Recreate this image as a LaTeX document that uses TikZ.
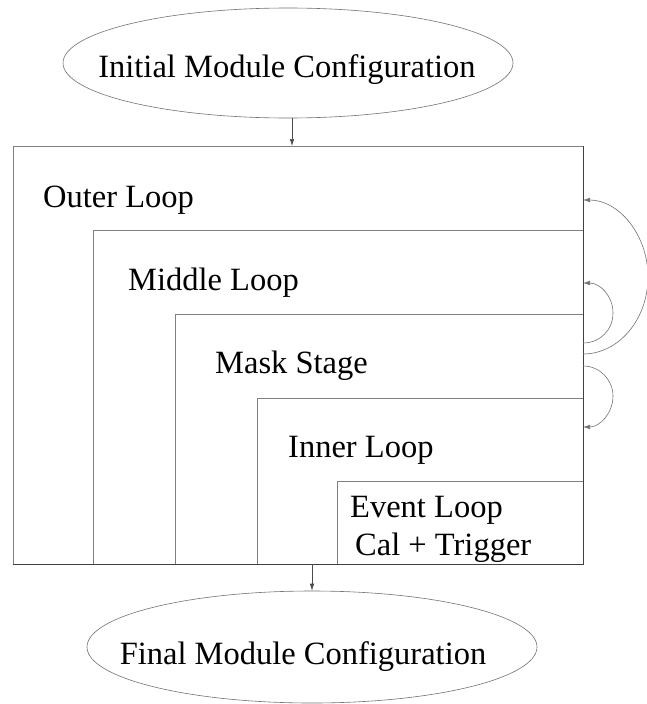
\documentclass[tikz,border=0pt]{standalone}
\usepackage{fontspec}
\setmainfont{Liberation Serif}
\usetikzlibrary{shapes.geometric,arrows.meta}
\begin{document}
\begin{tikzpicture}[x=1pt,y=-1pt,
  frame/.style={draw=black!50,line width=0.7pt},
  edge/.style={draw=black!75,line width=0.9pt},
  term/.style={ellipse,draw=black!55,line width=0.6pt,minimum width=450pt,inner sep=0pt},
  lbl/.style={anchor=base west,inner sep=0pt,font=\fontsize{32.5}{38}\selectfont},
  ttl/.style={anchor=base,inner sep=0pt,font=\fontsize{32.5}{38}\selectfont},
  flow/.style={draw=black!70,line width=0.6pt,-{Latex[length=7pt,width=4.5pt]}},
  loopback/.style={draw=black!55,line width=0.6pt,-{Latex[length=7pt,width=4.5pt]}}]
\useasboundingbox[fill=white] (0,0) rectangle (647,704);

% terminal ellipses
\node[term,minimum height=110pt] (init) at (288,63) {};
\node[ttl] (inittxt) at (287,77) {Initial Module Configuration};
\node[term,minimum height=112pt] (final) at (312,647) {};
\node[ttl] (finaltxt) at (303,664) {Final Module Configuration};

% nested loop frames (common right and bottom edges)
\coordinate (otl) at (13,146);
\coordinate (mtl) at (93,230);
\coordinate (ktl) at (175,314);
\coordinate (itl) at (257,398);
\coordinate (etl) at (337,481);
\coordinate (br) at (583,564);
\draw[frame] (otl) rectangle (br);
\draw[frame] (mtl) rectangle (br);
\draw[frame] (ktl) rectangle (br);
\draw[frame] (itl) rectangle (br);
\draw[frame] (etl) rectangle (br);
\draw[edge] (otl |- br) -- (br) -- (br |- otl);

% frame titles
\node[lbl] (outer) at (43,207) {Outer Loop};
\node[lbl] (middle) at (128,290) {Middle Loop};
\node[lbl] (mask) at (215,373) {Mask Stage};
\node[lbl] (inner) at (288,457) {Inner Loop};
\node[lbl] (event) at (350,517) {Event Loop};
\node[lbl] (caltrig) at (355,555) {Cal + Trigger};

% entry and exit arrows
\coordinate (intop) at (292,146);
\draw[flow] (init.south -| intop) -- (intop);
\coordinate (outbot) at (312,564);
\draw[flow] (outbot) -- (final.north);

% loop-back arcs on the right edge
\coordinate (bigS) at (583,354);
\coordinate (bigE) at (583,200);
\draw[loopback] (bigS) .. controls (619,354) and (648,319) .. (648,277)
  .. controls (648,235) and (619,200) .. (bigE);
\coordinate (midS) at (583,343);
\coordinate (midE) at (583,283);
\draw[loopback] (midS) .. controls (600,343) and (613,330) .. (613,313)
  .. controls (613,296) and (600,283) .. (midE);
\coordinate (lowS) at (583,366);
\coordinate (lowE) at (583,427);
\draw[loopback] (lowS) .. controls (600,366) and (613,380) .. (613,396)
  .. controls (613,413) and (600,427) .. (lowE);
\end{tikzpicture}
\end{document}
